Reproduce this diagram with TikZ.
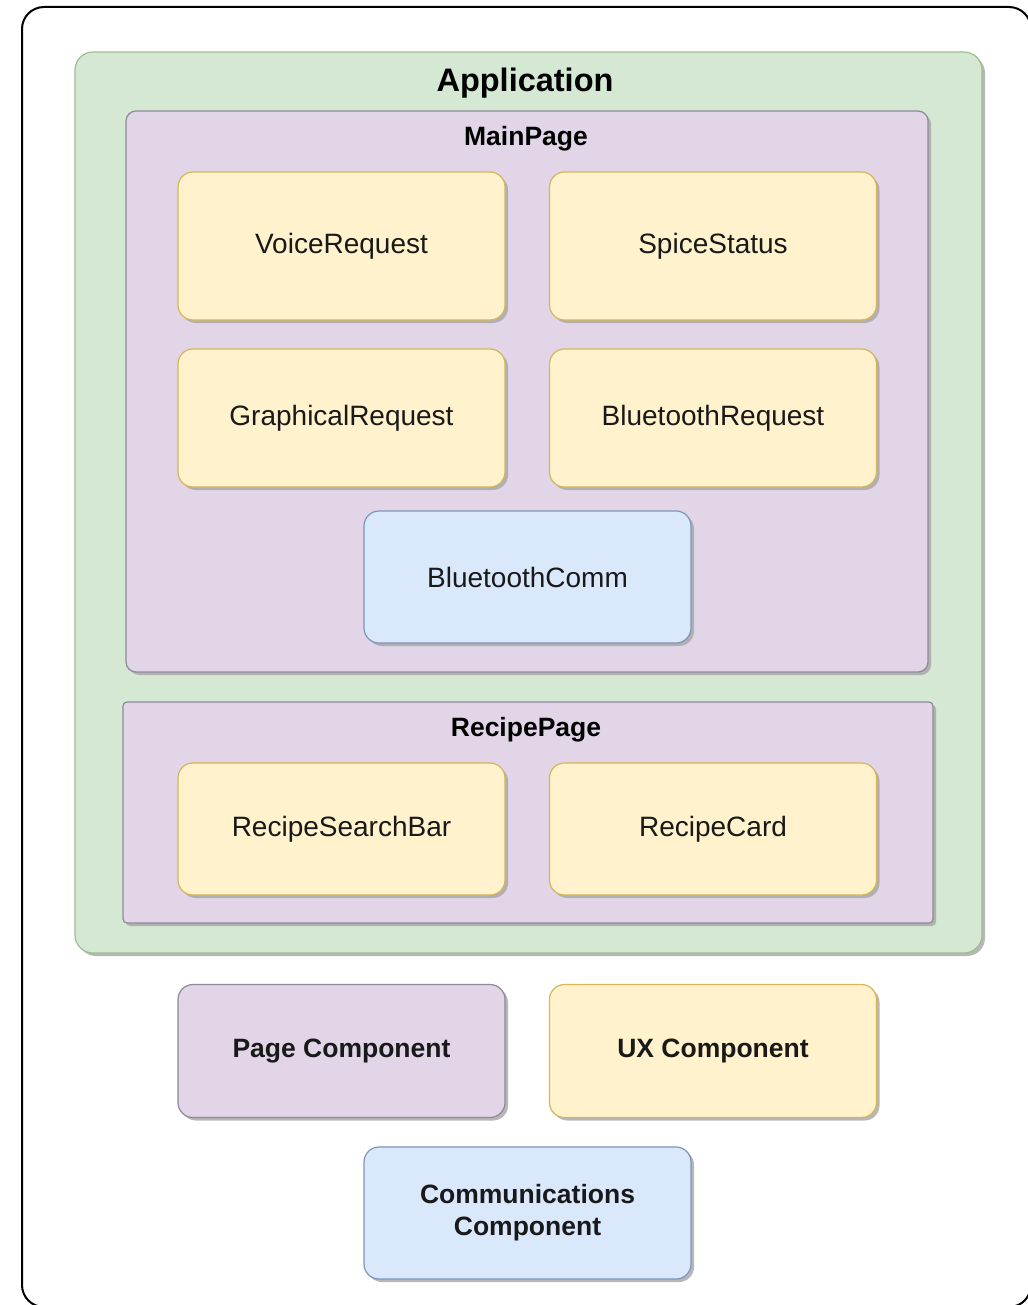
\documentclass[tikz,border=0pt]{standalone}
\usepackage{fontspec}
\setmainfont{Liberation Sans}
\usetikzlibrary{shadows}
\definecolor{gfill}{HTML}{D5E8D4}
\definecolor{gline}{HTML}{9DBF8E}
\definecolor{pfill}{HTML}{E1D5E7}
\definecolor{pline}{HTML}{8E8A96}
\definecolor{yfill}{HTML}{FFF2CC}
\definecolor{yline}{HTML}{D6B656}
\definecolor{bfill}{HTML}{DAE8FC}
\definecolor{bline}{HTML}{7D95BA}
\tikzset{
  shad/.style={drop shadow={shadow xshift=3pt, shadow yshift=-3pt, fill=black!35, opacity=0.8}},
  boxbase/.style={shad, line width=1.2pt, minimum width=327pt, text=black!90,
    font=\fontsize{28}{33}\selectfont, inner sep=0pt},
  uxbox/.style={boxbase, fill=yfill, draw=yline, rounded corners=15pt},
  commbox/.style={boxbase, fill=bfill, draw=bline, rounded corners=15pt},
  pagebox/.style={boxbase, fill=pfill, draw=pline, rounded corners=15pt},
  container/.style={shad, line width=1.2pt, inner sep=0pt},
  titletext/.style={font=\bfseries\fontsize{26.5}{32}\selectfont, text=black, inner sep=0pt},
}
\begin{document}
\begin{tikzpicture}[x=1pt,y=-1pt]
\useasboundingbox (0,0) rectangle (1027,1305);
\fill[white] (0,0) rectangle (1027,1305);
\draw[line width=2pt, rounded corners=22pt] (22,7) rectangle (1031,1307);
% Application
\node[container, fill=gfill, draw=gline, rounded corners=18pt, minimum width=907pt, minimum height=901pt] (app) at (528.5,502.5) {};
\node[font=\bfseries\fontsize{32.5}{38}\selectfont, inner sep=0pt] (apptitle) at (525,83) {Application};
% MainPage
\node[container, fill=pfill, draw=pline, rounded corners=10pt, minimum width=802pt, minimum height=561pt] (main) at (527,391.5) {};
\node[titletext] (maintitle) at (526,139) {MainPage};
\node[uxbox, minimum height=148pt] (vr) at (341.5,246) {VoiceRequest};
\node[uxbox, minimum height=148pt] (ss) at (713,246) {SpiceStatus};
\node[uxbox, minimum height=138pt] (gr) at (341.5,418) {GraphicalRequest};
\node[uxbox, minimum height=138pt] (br) at (713,418) {BluetoothRequest};
\node[commbox, minimum height=132pt] (bc) at (527.5,577) {BluetoothComm};
% RecipePage
\node[container, fill=pfill, draw=pline, rounded corners=4pt, minimum width=810pt, minimum height=221pt] (recipe) at (528,812.5) {};
\node[titletext] (recipetitle) at (526,730) {RecipePage};
\node[uxbox, minimum height=132pt] (rsb) at (341.5,829) {RecipeSearchBar};
\node[uxbox, minimum height=132pt] (rc) at (713,829) {RecipeCard};
% Legend
\node[pagebox, minimum height=133pt, font=\bfseries\fontsize{26.5}{32}\selectfont] (pc) at (341.5,1051) {Page Component};
\node[uxbox, minimum height=133pt, font=\bfseries\fontsize{26.5}{32}\selectfont] (uc) at (713,1051) {UX Component};
\node[commbox, minimum height=132pt, align=center, font=\bfseries\fontsize{26.5}{32}\selectfont] (cc) at (527.5,1213) {Communications\\Component};
\end{tikzpicture}
\end{document}
